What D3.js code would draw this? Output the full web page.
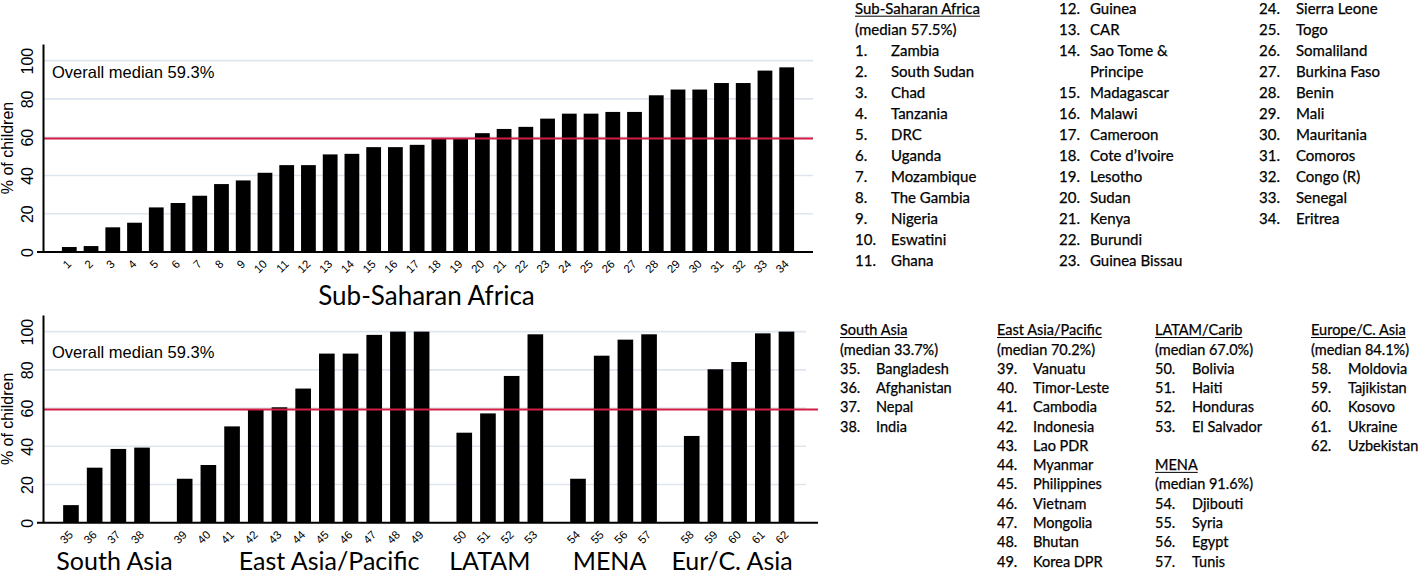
<!DOCTYPE html>
<html><head><meta charset="utf-8">
<script src="https://cdn.jsdelivr.net/npm/d3@7"></script>
<style>
html,body{margin:0;padding:0;background:#fff;}
svg{display:block;}
</style></head><body>
<svg id="chart" width="1418" height="574"></svg>
<script>
// ---------------- DATA ----------------
const overallMedian = 59.3;
const yTicks = [0, 20, 40, 60, 80, 100];

const ssaTitle = "Sub-Saharan Africa";
const ssaMedian = "57.5";
const ssaNumbers = [1,2,3,4,5,6,7,8,9,10,11,12,13,14,15,16,17,18,19,20,21,22,23,24,25,26,27,28,29,30,31,32,33,34];
const ssaCountries = ["Zambia","South Sudan","Chad","Tanzania","DRC","Uganda","Mozambique","The Gambia","Nigeria","Eswatini","Ghana",
  "Guinea","CAR","Sao Tome & Principe","Madagascar","Malawi","Cameroon","Cote d\u2019Ivoire","Lesotho","Sudan","Kenya","Burundi","Guinea Bissau",
  "Sierra Leone","Togo","Somaliland","Burkina Faso","Benin","Mali","Mauritania","Comoros","Congo (R)","Senegal","Eritrea"];
const ssaValues = [2.6,3.1,12.9,15.3,23.3,25.6,29.4,35.5,37.4,41.4,45.4,45.4,51.0,51.3,54.8,54.8,56.0,59.2,59.5,62.1,64.3,65.4,69.7,
  72.3,72.3,73.2,73.2,81.9,84.9,84.9,88.3,88.3,94.8,96.5];

const regionNames = ["South Asia","East Asia/Pacific","LATAM/Carib","MENA","Europe/C. Asia"];
const regionAxisLabels = ["South Asia","East Asia/Pacific","LATAM","MENA","Eur/C. Asia"];
const regionMedians = ["33.7","70.2","67.0","91.6","84.1"];

const saNumbers = [35,36,37,38];
const saCountries = ["Bangladesh","Afghanistan","Nepal","India"];
const saValues = [9.2,28.8,38.6,39.3];

const eapNumbers = [39,40,41,42,43,44,45,46,47,48,49];
const eapCountries = ["Vanuatu","Timor-Leste","Cambodia","Indonesia","Lao PDR","Myanmar","Philippines","Vietnam","Mongolia","Bhutan","Korea DPR"];
const eapValues = [23.0,30.2,50.4,59.5,60.4,70.2,88.5,88.5,98.3,100,100];

const latamNumbers = [50,51,52,53];
const latamCountries = ["Bolivia","Haiti","Honduras","El Salvador"];
const latamValues = [47.1,57.2,76.8,98.6];

const menaNumbers = [54,55,56,57];
const menaCountries = ["Djibouti","Syria","Egypt","Tunis"];
const menaValues = [23.0,87.4,95.8,98.6];

const eurNumbers = [58,59,60,61,62];
const eurCountries = ["Moldovia","Tajikistan","Kosovo","Ukraine","Uzbekistan"];
const eurValues = [45.4,80.3,84.1,99.1,100];

// ---------------- LAYOUT ----------------
const svg = d3.select("#chart");
const AX_FONT = "'Liberation Sans', Arial, sans-serif";
const CAL_FONT = "Lato, 'Open Sans', sans-serif";
const GRID = "#dfe5ef";
const RED = "#d21e45";

function drawPanel(p) {
  const g = svg.append("g");
  const y = d3.scaleLinear().domain([0, 108.7]).range([p.y0, p.yTop]);
  // gridlines
  g.selectAll("line.grid").data(yTicks.filter(d => d > 0)).join("line")
    .attr("x1", p.xLeft).attr("x2", p.gridRight)
    .attr("y1", d => y(d)).attr("y2", d => y(d))
    .attr("stroke", GRID).attr("stroke-width", 1.6);
  // bars
  g.selectAll("rect.bar").data(p.bars).join("rect")
    .attr("x", d => p.cx(d) - p.bw / 2)
    .attr("width", p.bw)
    .attr("y", d => y(d.value))
    .attr("height", d => y(0) - y(d.value))
    .attr("fill", "#000");
  // median line
  g.append("line").attr("x1", p.xLeft).attr("x2", p.xRight)
    .attr("y1", y(overallMedian)).attr("y2", y(overallMedian))
    .attr("stroke", RED).attr("stroke-width", 2);
  // y axis
  const yAxis = d3.axisLeft(y).tickValues(yTicks).tickSize(0).tickPadding(0);
  const ya = g.append("g").attr("transform", `translate(${p.xLeft},0)`).call(yAxis);
  ya.select(".domain").attr("stroke", "#000").attr("stroke-width", 2);
  ya.selectAll(".tick text")
    .attr("x", null).attr("dy", null)
    .attr("text-anchor", "middle")
    .attr("transform", `translate(${33 - p.xLeft},0) rotate(-90)`)
    .attr("font-family", AX_FONT).attr("font-size", 16).attr("fill", "#000");
  // y title
  g.append("text").attr("transform", `translate(13,${(p.y0 + p.yTop) / 2}) rotate(-90)`)
    .attr("text-anchor", "middle").attr("font-family", AX_FONT).attr("font-size", 16)
    .text("% of children");
  // x tick labels, rotated 45 degrees
  g.selectAll("text.xlab").data(p.bars).join("text")
    .attr("class", "xlab")
    .attr("transform", d => `translate(${p.cx(d) - 3},${p.y0 + 7}) rotate(-45)`)
    .attr("dy", "0.71em")
    .attr("text-anchor", "end")
    .attr("font-family", AX_FONT).attr("font-size", 11.5).attr("fill", "#000")
    .text(d => d.num);
  // x axis line
  g.append("line").attr("x1", p.xLeft - 6).attr("x2", p.xRight)
    .attr("y1", p.y0).attr("y2", p.y0).attr("stroke", "#000").attr("stroke-width", 2);
  // median label
  g.append("text").attr("x", 52).attr("y", p.medLabelY)
    .attr("font-family", AX_FONT).attr("font-size", 16.5).attr("fill", "#000")
    .text("Overall median " + overallMedian + "%");
  return {g, y};
}

// ---- top panel ----
const topBars = ssaValues.map((v, i) => ({num: ssaNumbers[i], value: v}));
const xTop = d3.scaleBand().domain(ssaNumbers).range([43, 813]).paddingInner(0.32).paddingOuter(0.87);
drawPanel({
  y0: 252, yTop: 44, xLeft: 43, xRight: 813, gridRight: 813,
  bars: topBars, cx: d => xTop(d.num) + xTop.bandwidth() / 2, bw: xTop.bandwidth(),
  medLabelY: 77.5
});
svg.append("text").attr("x", 426.5).attr("y", 305)
  .attr("text-anchor", "middle").attr("font-family", CAL_FONT).attr("font-size", 26)
  .attr("fill", "#000").text(ssaTitle);

// ---- bottom panel ----
const groups = [
  {nums: saNumbers, vals: saValues},
  {nums: eapNumbers, vals: eapValues},
  {nums: latamNumbers, vals: latamValues},
  {nums: menaNumbers, vals: menaValues},
  {nums: eurNumbers, vals: eurValues}
];
const GROUP_GAP = 0.8;
const botBars = [];
let k = 0;
groups.forEach((grp, gi) => {
  grp.nums.forEach((n, j) => {
    botBars.push({num: n, value: grp.vals[j], slot: k + GROUP_GAP * gi, group: gi});
    k++;
  });
});
const lastSlot = botBars[botBars.length - 1].slot;
const xBot = d3.scaleLinear().domain([-1.18, lastSlot + 1.33]).range([43, 818]);
const stepBot = xBot(1) - xBot(0);
drawPanel({
  y0: 522.7, yTop: 315, xLeft: 43, xRight: 818, gridRight: 806,
  bars: botBars, cx: d => xBot(d.slot), bw: stepBot * 0.66,
  medLabelY: 357.5
});
// group labels (placed under groups, with small manual offsets matching the original)
const groupLabelOffsets = [8, 26, -10, -4, -7];
regionAxisLabels.forEach((lab, gi) => {
  const gb = botBars.filter(d => d.group === gi);
  const c = (xBot(gb[0].slot) + xBot(gb[gb.length - 1].slot)) / 2 + groupLabelOffsets[gi];
  svg.append("text").attr("x", c).attr("y", 570).attr("text-anchor", "middle")
    .attr("font-family", CAL_FONT).attr("font-size", 25).attr("fill", "#000").text(lab);
});

// ---------------- LEGENDS ----------------
function legendColumn(xNum, xName, base, pitch, rows, fontSize, wrapW) {
  const g = svg.append("g").attr("font-family", CAL_FONT).attr("font-size", fontSize)
    .attr("fill", "#000").attr("stroke", "#000").attr("stroke-width", 0.25);
  let r = 0;
  rows.forEach(row => {
    const yy = base + r * pitch;
    if (row.type === "head") {
      const t = g.append("text").attr("x", xNum).attr("y", yy).text(row.text);
      const w = t.node().getComputedTextLength();
      g.append("line").attr("x1", xNum).attr("x2", xNum + w).attr("y1", yy + 2.2).attr("y2", yy + 2.2)
        .attr("stroke", "#000").attr("stroke-width", 1);
      r++;
    } else if (row.type === "plain") {
      g.append("text").attr("x", xNum).attr("y", yy).text(row.text);
      r++;
    } else if (row.type === "blank") {
      r++;
    } else {
      g.append("text").attr("x", xNum).attr("y", yy).text(row.num + ".");
      // wrap name if needed
      const words = row.name.split(" ");
      let line = [], lines = [];
      const probe = g.append("text").attr("x", -1000).attr("y", -1000);
      words.forEach(w => {
        const test = line.concat([w]).join(" ");
        probe.text(test);
        if (line.length && probe.node().getComputedTextLength() > wrapW) {
          lines.push(line.join(" ")); line = [w];
        } else line.push(w);
      });
      lines.push(line.join(" "));
      probe.remove();
      lines.forEach((ln, li) => {
        g.append("text").attr("x", xName).attr("y", base + (r + li) * pitch).text(ln);
      });
      r += lines.length;
    }
  });
}
function items(nums, names, from, to) {
  const out = [];
  for (let i = from; i < to; i++) out.push({type: "item", num: nums[i], name: names[i]});
  return out;
}

// top legend
const TOPB = 14, TOPP = 21.0, TOPF = 15;
legendColumn(855, 891, TOPB, TOPP, [
  {type: "head", text: ssaTitle},
  {type: "plain", text: "(median " + ssaMedian + "%)"},
  ...items(ssaNumbers, ssaCountries, 0, 11)
], TOPF, 115);
legendColumn(1059, 1090, TOPB, TOPP, items(ssaNumbers, ssaCountries, 11, 23), TOPF, 115);
legendColumn(1259, 1296, TOPB, TOPP, items(ssaNumbers, ssaCountries, 23, 34), TOPF, 115);

// bottom legend
const BOTB = 335.3, BOTP = 19.27, BOTF = 14.5;
legendColumn(840, 876, BOTB, BOTP, [
  {type: "head", text: regionNames[0]},
  {type: "plain", text: "(median " + regionMedians[0] + "%)"},
  ...items(saNumbers, saCountries, 0, saNumbers.length)
], BOTF, 200);
legendColumn(997, 1033, BOTB, BOTP, [
  {type: "head", text: regionNames[1]},
  {type: "plain", text: "(median " + regionMedians[1] + "%)"},
  ...items(eapNumbers, eapCountries, 0, eapNumbers.length)
], BOTF, 200);
legendColumn(1155, 1192, BOTB, BOTP, [
  {type: "head", text: regionNames[2]},
  {type: "plain", text: "(median " + regionMedians[2] + "%)"},
  ...items(latamNumbers, latamCountries, 0, latamNumbers.length),
  {type: "blank"},
  {type: "head", text: regionNames[3]},
  {type: "plain", text: "(median " + regionMedians[3] + "%)"},
  ...items(menaNumbers, menaCountries, 0, menaNumbers.length)
], BOTF, 200);
legendColumn(1311, 1348, BOTB, BOTP, [
  {type: "head", text: regionNames[4]},
  {type: "plain", text: "(median " + regionMedians[4] + "%)"},
  ...items(eurNumbers, eurCountries, 0, eurNumbers.length)
], BOTF, 200);
</script>
</body></html>
